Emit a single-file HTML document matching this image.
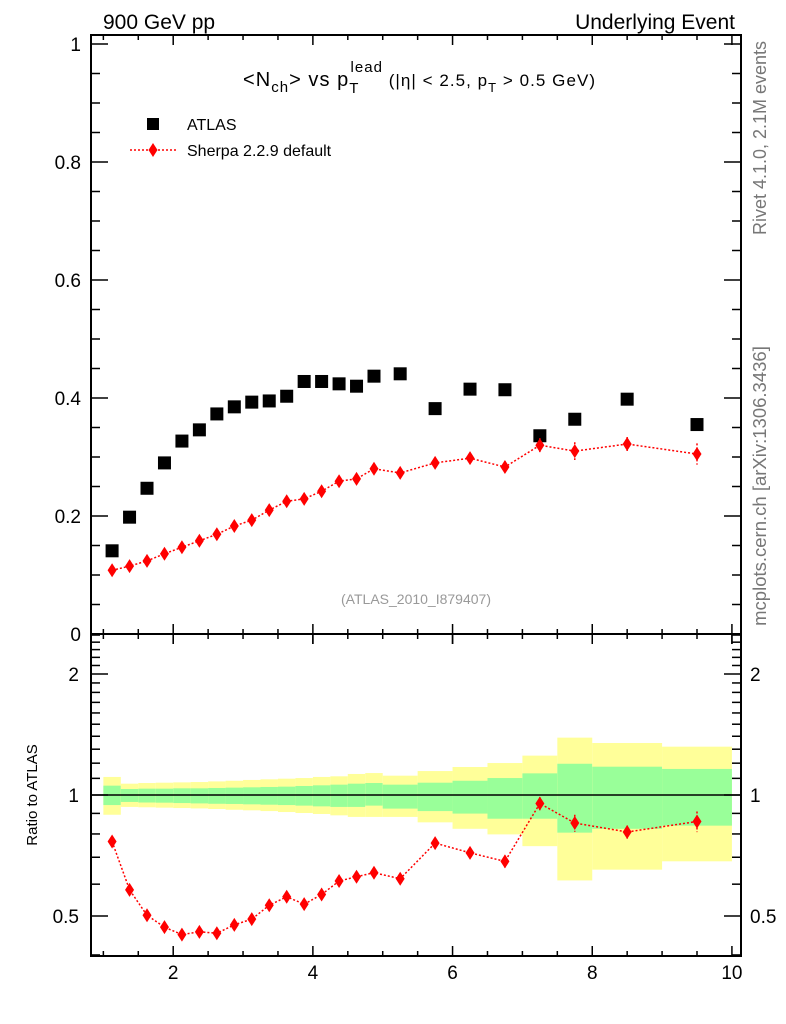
<!DOCTYPE html>
<html><head><meta charset="utf-8"><style>
html,body{margin:0;padding:0;background:#fff}
svg{display:block;font-family:"Liberation Sans",Arial,sans-serif}
</style></head><body>
<svg id="chart" width="786" height="1024" viewBox="0 0 786 1024" xmlns="http://www.w3.org/2000/svg">
<g id="bands"></g>
<g id="marks"></g>
<g id="axes"></g>
<text x="103" y="29" font-size="21">900 GeV pp</text>
<text x="735" y="29" font-size="21" text-anchor="end">Underlying Event</text>
<text x="243" y="86" font-size="20" textLength="352" lengthAdjust="spacing">&lt;N<tspan font-size="15" dy="6">ch</tspan><tspan dy="-6">&gt; vs p</tspan><tspan font-size="15" dy="7">T</tspan><tspan font-size="15" dx="-9" dy="-21">lead</tspan><tspan font-size="17" dy="14"> (|η| &lt; 2.5, p</tspan><tspan font-size="13" dy="6">T</tspan><tspan font-size="17" dy="-6"> &gt; 0.5 GeV)</tspan></text>
<g>
<rect x="147" y="118" width="12" height="12" fill="#000"/>
<text x="187" y="130" font-size="16">ATLAS</text>
<line x1="130" y1="150" x2="176" y2="150" stroke="#f00" stroke-width="1.5" stroke-dasharray="2,2"/>
<path d="M153,143 L157.5,150 L153,157 L148.5,150 Z" fill="#f00"/>
<text x="187" y="156" font-size="16">Sherpa 2.2.9 default</text>
</g>
<text x="416" y="604" font-size="14" fill="#999" text-anchor="middle">(ATLAS_2010_I879407)</text>
<text transform="translate(766,138) rotate(-90)" font-size="18" fill="#777" text-anchor="middle">Rivet 4.1.0,  2.1M events</text>
<text transform="translate(766,486) rotate(-90)" font-size="18.5" fill="#777" text-anchor="middle">mcplots.cern.ch [arXiv:1306.3436]</text>
<text transform="translate(37,795) rotate(-90)" font-size="15" text-anchor="middle">Ratio to ATLAS</text>
</svg>
<script>
const binLo = [1,1.25,1.5,1.75,2,2.25,2.5,2.75,3,3.25,3.5,3.75,4,4.25,4.5,4.75,5,5.5,6,6.5,7,7.5,8,9];
const binHi = [1.25,1.5,1.75,2,2.25,2.5,2.75,3,3.25,3.5,3.75,4,4.25,4.5,4.75,5,5.5,6,6.5,7,7.5,8,9,10];
const xCenters = [1.125,1.375,1.625,1.875,2.125,2.375,2.625,2.875,3.125,3.375,3.625,3.875,4.125,4.375,4.625,4.875,5.25,5.75,6.25,6.75,7.25,7.75,8.5,9.5];
const atlasVals = [0.141,0.198,0.247,0.290,0.327,0.346,0.373,0.385,0.393,0.395,0.403,0.428,0.428,0.424,0.420,0.437,0.441,0.382,0.415,0.414,0.336,0.364,0.398,0.355];
const sherpaVals = [0.108,0.115,0.124,0.136,0.147,0.158,0.169,0.183,0.193,0.210,0.225,0.229,0.242,0.259,0.263,0.280,0.273,0.290,0.298,0.283,0.320,0.310,0.322,0.305];
const sherpaErr = [0.003,0.003,0.003,0.003,0.003,0.003,0.003,0.003,0.003,0.004,0.004,0.004,0.004,0.005,0.005,0.005,0.006,0.007,0.008,0.010,0.012,0.015,0.012,0.018];
const yellowUp = [1.109,1.067,1.071,1.073,1.075,1.077,1.081,1.085,1.090,1.094,1.098,1.102,1.109,1.113,1.128,1.134,1.117,1.147,1.174,1.201,1.253,1.389,1.347,1.319];
const yellowDn = [0.893,0.934,0.932,0.930,0.928,0.926,0.923,0.919,0.916,0.912,0.907,0.902,0.897,0.890,0.882,0.882,0.882,0.855,0.824,0.798,0.746,0.613,0.652,0.684];
const greenUp = [1.055,1.035,1.037,1.037,1.039,1.039,1.041,1.043,1.045,1.047,1.049,1.053,1.057,1.061,1.067,1.071,1.061,1.073,1.085,1.102,1.132,1.196,1.176,1.161];
const greenDn = [0.944,0.961,0.958,0.957,0.955,0.953,0.951,0.950,0.948,0.946,0.944,0.941,0.937,0.934,0.934,0.941,0.925,0.912,0.899,0.873,0.873,0.806,0.824,0.839];
const mainYTicks = [0,0.2,0.4,0.6,0.8,1];
const mainYLabels = ["0","0.2","0.4","0.6","0.8","1"];
const ratioMajor = [0.5,1,2];
const ratioLabels = ["0.5","1","2"];
const xMajor = [2,4,6,8,10];
const xLabels = ["2","4","6","8","10"];

const NS="http://www.w3.org/2000/svg";
const L=91,R=741,MT=35,MB=634,RT=634,RB=956;
const X0=0.823,X1=10.13;
function sx(v){return L+(v-X0)/(X1-X0)*(R-L);}
function sy(v){return MB-v*590;}
function ry(v){return 795-Math.log2(v)*121;}
function mk(tag,attrs,parent){const e=document.createElementNS(NS,tag);for(const k in attrs)e.setAttribute(k,attrs[k]);parent.appendChild(e);return e;}
const bands=document.getElementById('bands'),marks=document.getElementById('marks'),axes=document.getElementById('axes');

for(let i=0;i<binLo.length;i++){
  let r=mk('rect',{x:sx(binLo[i]),y:ry(yellowUp[i]),width:sx(binHi[i])-sx(binLo[i]),height:ry(yellowDn[i])-ry(yellowUp[i]),fill:'#ffff99'},bands);
  
  
  let g=mk('rect',{x:sx(binLo[i]),y:ry(greenUp[i]),width:sx(binHi[i])-sx(binLo[i]),height:ry(greenDn[i])-ry(greenUp[i]),fill:'#99ff99'},bands);
  
  
}
let one=mk('line',{x1:L,x2:R,y1:ry(1),y2:ry(1),stroke:'#000','stroke-width':1.5},bands);



function diamond(x,y,parent){return mk('path',{d:`M${x},${y-7} L${x+4.5},${y} L${x},${y+7} L${x-4.5},${y} Z`,fill:'#f00'},parent);}

let pts=xCenters.map((x,i)=>sx(x)+','+sy(sherpaVals[i])).join(' ');
let pl=mk('polyline',{points:pts,fill:'none',stroke:'#f00','stroke-width':1.5,'stroke-dasharray':'2,2'},marks);


const ratioVals=sherpaVals.map((s,i)=>s/atlasVals[i]);
let rpts=xCenters.map((x,i)=>sx(x)+','+ry(ratioVals[i])).join(' ');
let rpl=mk('polyline',{points:rpts,fill:'none',stroke:'#f00','stroke-width':1.5,'stroke-dasharray':'2,2'},marks);


for(let i=0;i<xCenters.length;i++){
  const x=sx(xCenters[i]);
  let a=mk('rect',{x:x-6.5,y:sy(atlasVals[i])-6.5,width:13,height:13,fill:'#000'},marks);
  
  
  let e=mk('line',{x1:x,x2:x,y1:sy(sherpaVals[i]+sherpaErr[i]),y2:sy(sherpaVals[i]-sherpaErr[i]),stroke:'#f00','stroke-width':1.5,'stroke-dasharray':'2,2'},marks);
  
  
  let d=diamond(x,sy(sherpaVals[i]),marks);
  
  
  const rr=ratioVals[i],re=sherpaErr[i]/atlasVals[i];
  let e2=mk('line',{x1:x,x2:x,y1:ry(rr+re),y2:ry(rr-re),stroke:'#f00','stroke-width':1.5,'stroke-dasharray':'2,2'},marks);
  
  
  let d2=diamond(x,ry(rr),marks);
  
  
}

let f1=mk('rect',{x:L,y:MT,width:R-L,height:MB-MT,fill:'none',stroke:'#000','stroke-width':2},axes);


let f2=mk('rect',{x:L,y:RT,width:R-L,height:RB-RT,fill:'none',stroke:'#000','stroke-width':2},axes);


function tick(x1,y1,x2,y2){let t=mk('line',{x1,y1,x2,y2,stroke:'#000','stroke-width':1.5},axes);}
for(let v=0;v<=1.0001;v+=0.05){const y=sy(v);const major=Math.abs(v/0.2-Math.round(v/0.2))<1e-6;const len=major?17:9;tick(L,y,L+len,y);tick(R,y,R-len,y);}
mainYTicks.forEach((v,i)=>{let t=mk('text',{x:81,y:sy(v)+7,'font-size':19,'text-anchor':'end'},axes);t.textContent=mainYLabels[i];});
for(let k=4;k<=25;k++){const v=k/10;const y=ry(v);if(y<RT||y>RB)continue;const major=ratioMajor.some(m=>Math.abs(m-v)<1e-6);const len=major?17:9;tick(L,y,L+len,y);tick(R,y,R-len,y);}
ratioMajor.forEach((v,i)=>{let t=mk('text',{x:79,y:ry(v)+7,'font-size':19,'text-anchor':'end'},axes);t.textContent=ratioLabels[i];
let t2=mk('text',{x:750,y:ry(v)+7,'font-size':19},axes);t2.textContent=ratioLabels[i];});
for(let k=2;k<=20;k++){const v=k/2;const x=sx(v);if(x<L||x>R)continue;const major=k%4==0;const len=major?10:5;
 tick(x,MB,x,MB-len);tick(x,MT,x,MT+len);tick(x,RB,x,RB-len);tick(x,RT,x,RT+len);if(major){tick(x,MB,x,MB+len);}}
xMajor.forEach((v,i)=>{let t=mk('text',{x:sx(v),y:979,'font-size':19,'text-anchor':'middle'},axes);t.textContent=xLabels[i];});
</script>
</body></html>
